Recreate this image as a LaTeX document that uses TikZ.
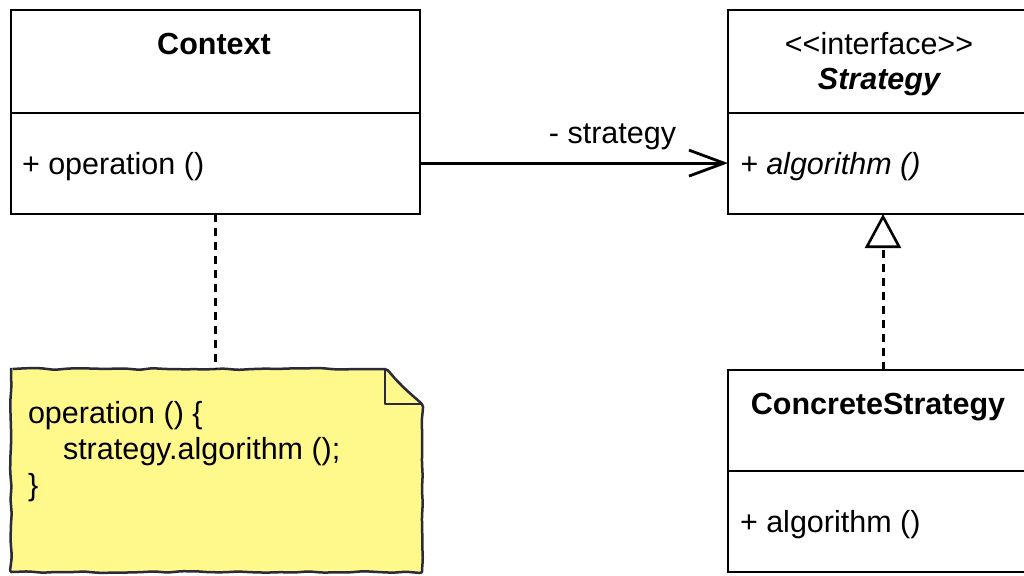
\documentclass[tikz,border=0pt]{standalone}
\usepackage{fontspec}
\setmainfont{Liberation Sans}
\usetikzlibrary{arrows.meta,decorations.pathmorphing}
\newcommand\umlfont{\fontsize{30.5}{36}\selectfont}
\definecolor{notefill}{RGB}{255,248,138}
\definecolor{noteedge}{RGB}{42,42,58}
\begin{document}
\begin{tikzpicture}[x=1pt,y=-1pt,
  line width=2.8pt,
  every node/.style={inner sep=0pt, outer sep=0pt, font=\umlfont},
  umlbox/.style={draw, line width=2.8pt, anchor=north west},
  txtleft/.style={anchor=base west},
  txtmid/.style={anchor=base},
  dashline/.style={dash pattern=on 8pt off 6pt, line width=3pt},
  sketchy/.style={decorate, decoration={random steps, segment length=14pt, amplitude=0.9pt}, rounded corners=2pt},
]
\pgfmathsetseed{7}
\useasboundingbox (0,0) rectangle (1024,575);
\fill[white] (0,0) rectangle (1024,575);

% Context class
\node[umlbox, minimum width=409pt, minimum height=204pt] (ctx) at (11,10) {};
\draw (ctx.west |- 0,113) -- (ctx.east |- 0,113);
\node[txtmid, font=\umlfont\bfseries] (ctxname) at (214,55) {Context};
\node[txtleft] (ctxop) at (22,174) {+ operation ()};

% Strategy interface
\node[umlbox, minimum width=310pt, minimum height=204pt] (str) at (728,10) {};
\draw (str.west |- 0,113) -- (str.east |- 0,113);
\node[txtmid] (strster) at (879,55) {<\kern0pt<interface>\kern0pt>};
\node[txtmid, font=\umlfont\bfseries\itshape] (strname) at (879,90) {Strategy};
\node[txtleft, font=\umlfont\itshape] (strop) at (740,174) {+ algorithm ()};

% ConcreteStrategy class
\node[umlbox, minimum width=310pt, minimum height=202pt] (cs) at (728,370) {};
\draw (cs.west |- 0,471) -- (cs.east |- 0,471);
\node[txtmid, font=\umlfont\bfseries] (csname) at (878,414) {ConcreteStrategy};
\node[txtleft] (csop) at (740,532) {+ algorithm ()};

% Note attached to Context
\node[minimum width=411pt, minimum height=203pt, anchor=north west] (note) at (11,369) {};
\foreach \dx/\dy/\op in {6/5/0.18, 3.5/3/0.3}{
  \fill[black, opacity=\op, sketchy, shift={(\dx,\dy)}]
    (note.north west) -- ([xshift=-37pt]note.north east)
    -- ([yshift=-35pt]note.north east) -- (note.south east)
    -- (note.south west) -- cycle;
}
\filldraw[fill=notefill, draw=noteedge, line width=2.5pt, sketchy, line join=round]
  (note.north west) -- ([xshift=-37pt]note.north east)
  -- ([yshift=-35pt]note.north east) -- (note.south east)
  -- (note.south west) -- cycle;
\draw[draw=noteedge, line width=2.5pt, line join=round]
  ([xshift=-37pt]note.north east) -- ([xshift=-37pt,yshift=-35pt]note.north east)
  -- ([yshift=-35pt]note.north east);
\node[txtleft] (noteA) at (28,423) {operation () \{};
\node[txtleft] (noteB) at (63,459) {strategy.algorithm ();};
\node[txtleft] (noteC) at (28,495) {\}};

% Connectors
\draw[dashline] (ctx.south) -- (ctx.south |- note.north);
\draw[-{Straight Barb[length=35pt,width=26pt]}] ([yshift=3pt]ctxop -| ctx.east) -- ([yshift=3pt]ctxop -| str.west)
  node[pos=0.625, anchor=base, yshift=20pt] (assoc) {- strategy};
\draw[dashline, -{Triangle[open, fill=white, length=34pt, width=36pt, line width=2.6pt]}] (cs.north) -- (str.south);
\end{tikzpicture}
\end{document}
